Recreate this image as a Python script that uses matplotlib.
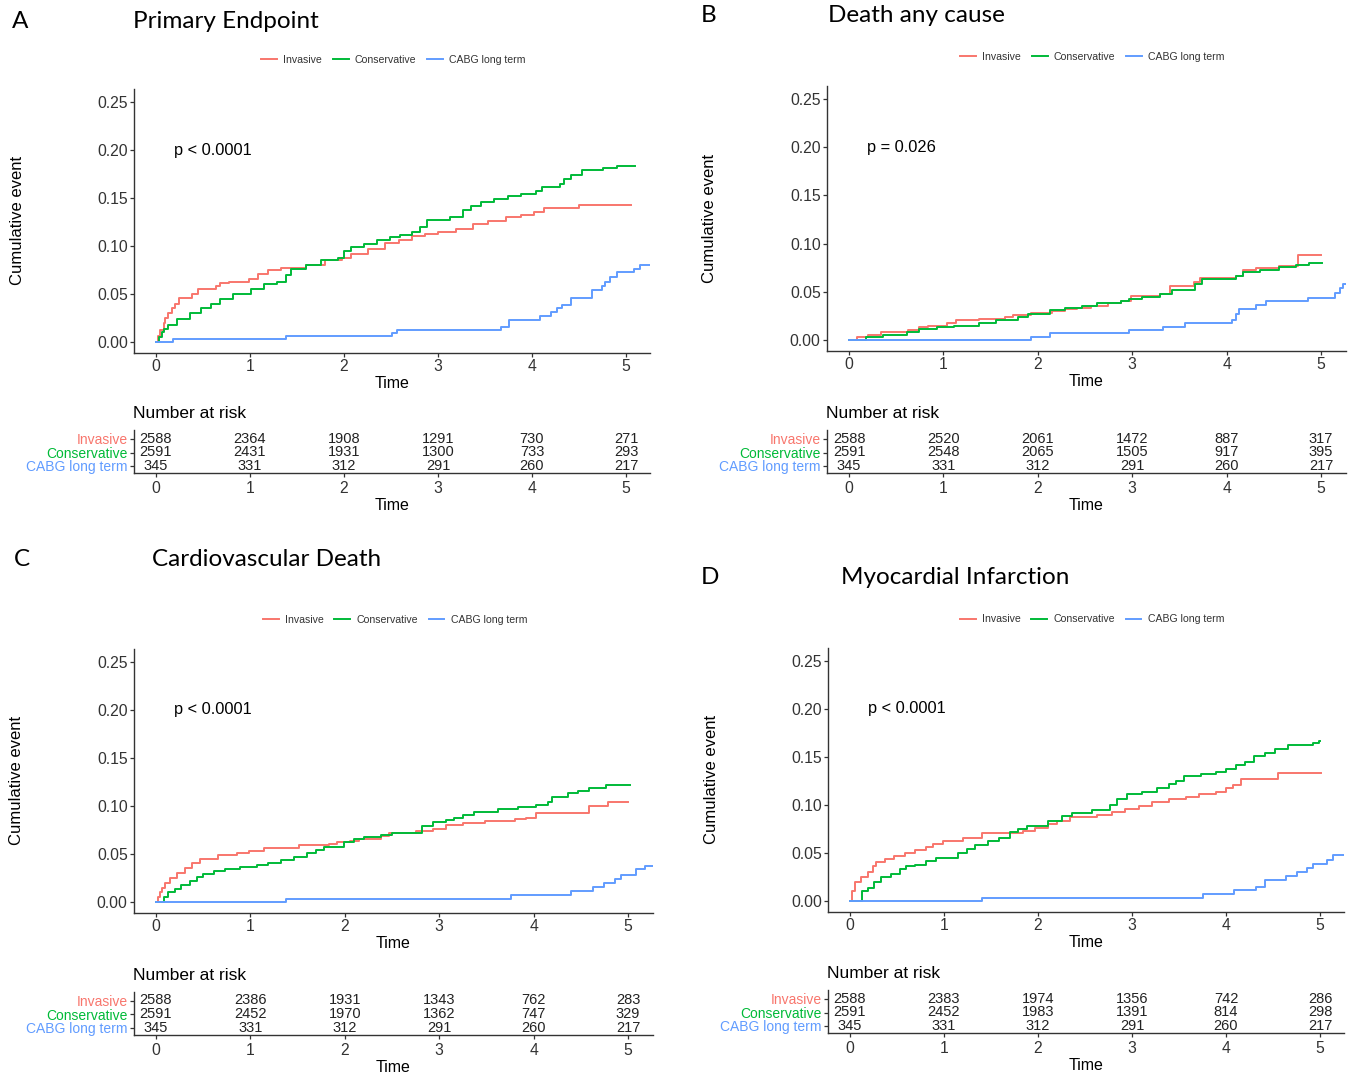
import matplotlib
matplotlib.use("Agg")
import matplotlib.pyplot as plt
from matplotlib.lines import Line2D

W, H = 1352, 1077
plt.rcParams['font.family'] = ['Liberation Sans', 'DejaVu Sans']

groups = ["Invasive", "Conservative", "CABG long term"]
colors = ["#F8766D", "#00BA38", "#619CFF"]
years = [0, 1, 2, 3, 4, 5]
yticks = [0.00, 0.05, 0.10, 0.15, 0.20, 0.25]

# step knots (time, cumulative event)
a_invasive = [(0, 0), (0.02, 0.006), (0.04, 0.012), (0.08, 0.02), (0.1, 0.025), (0.13, 0.03),
              (0.17, 0.035), (0.2, 0.04), (0.24, 0.046), (0.38, 0.05), (0.45, 0.055), (0.64, 0.058),
              (0.68, 0.061), (0.78, 0.063), (0.99, 0.066), (1.08, 0.071), (1.19, 0.075), (1.33, 0.077),
              (1.6, 0.08), (1.8, 0.085), (1.98, 0.088), (2.07, 0.092), (2.26, 0.097), (2.44, 0.103),
              (2.58, 0.106), (2.72, 0.11), (2.86, 0.112), (3.0, 0.115), (3.19, 0.118), (3.37, 0.123),
              (3.53, 0.126), (3.72, 0.13), (3.88, 0.132), (4.02, 0.135), (4.13, 0.14), (4.5, 0.143),
              (5.05, 0.143)]
a_conservative = [(0, 0), (0.03, 0.005), (0.06, 0.01), (0.09, 0.014), (0.13, 0.018), (0.22, 0.024),
                  (0.36, 0.03), (0.48, 0.035), (0.59, 0.04), (0.68, 0.045), (0.82, 0.05), (1.01, 0.055),
                  (1.15, 0.06), (1.29, 0.063), (1.38, 0.07), (1.44, 0.076), (1.6, 0.08), (1.75, 0.085),
                  (1.94, 0.088), (2.0, 0.095), (2.07, 0.099), (2.21, 0.102), (2.35, 0.106), (2.49, 0.109),
                  (2.6, 0.111), (2.72, 0.115), (2.81, 0.12), (2.88, 0.127), (3.13, 0.13), (3.27, 0.138),
                  (3.35, 0.142), (3.46, 0.146), (3.6, 0.149), (3.74, 0.152), (3.88, 0.154), (4.04, 0.157),
                  (4.11, 0.161), (4.3, 0.165), (4.34, 0.17), (4.41, 0.174), (4.53, 0.179), (4.76, 0.181),
                  (4.9, 0.183), (5.1, 0.183)]
a_cabg = [(0, 0), (0.18, 0.003), (1.38, 0.006), (2.51, 0.009), (2.56, 0.012), (3.67, 0.016),
          (3.76, 0.023), (4.09, 0.027), (4.2, 0.031), (4.27, 0.035), (4.32, 0.039), (4.41, 0.046),
          (4.64, 0.054), (4.74, 0.058), (4.78, 0.063), (4.83, 0.068), (4.9, 0.073), (5.08, 0.076),
          (5.15, 0.08), (5.26, 0.08)]

b_invasive = [(0, 0), (0.08, 0.003), (0.2, 0.005), (0.34, 0.008), (0.63, 0.01), (0.74, 0.013),
              (0.84, 0.015), (1.04, 0.018), (1.13, 0.021), (1.38, 0.022), (1.65, 0.024), (1.74, 0.026),
              (1.93, 0.028), (2.15, 0.03), (2.29, 0.032), (2.42, 0.033), (2.56, 0.035), (2.74, 0.038),
              (2.88, 0.04), (2.99, 0.046), (3.29, 0.048), (3.4, 0.056), (3.65, 0.06), (3.72, 0.064),
              (4.1, 0.066), (4.17, 0.073), (4.31, 0.075), (4.56, 0.077), (4.76, 0.088), (5.0, 0.088)]
b_conservative = [(0, 0), (0.18, 0.003), (0.36, 0.005), (0.61, 0.008), (0.74, 0.011), (0.93, 0.013),
                  (1.11, 0.015), (1.38, 0.018), (1.56, 0.021), (1.79, 0.024), (1.9, 0.027), (2.13, 0.031),
                  (2.29, 0.033), (2.47, 0.035), (2.63, 0.038), (2.88, 0.04), (2.97, 0.043), (3.1, 0.045),
                  (3.29, 0.048), (3.42, 0.052), (3.67, 0.058), (3.74, 0.063), (4.1, 0.066), (4.17, 0.071),
                  (4.35, 0.073), (4.56, 0.076), (4.74, 0.078), (4.87, 0.08), (5.01, 0.08)]
b_cabg = [(0, 0), (1.93, 0.003), (2.13, 0.007), (2.97, 0.01), (3.33, 0.014), (3.56, 0.018),
          (4.06, 0.021), (4.1, 0.027), (4.13, 0.032), (4.31, 0.036), (4.42, 0.04), (4.86, 0.044),
          (5.15, 0.049), (5.2, 0.054), (5.23, 0.058), (5.26, 0.058)]

c_invasive = [(0, 0), (0.02, 0.005), (0.04, 0.01), (0.06, 0.015), (0.1, 0.02), (0.15, 0.025),
              (0.22, 0.03), (0.31, 0.035), (0.38, 0.041), (0.47, 0.045), (0.66, 0.049), (0.86, 0.051),
              (0.98, 0.053), (1.14, 0.056), (1.51, 0.059), (1.83, 0.06), (1.92, 0.063), (2.06, 0.064),
              (2.15, 0.066), (2.38, 0.069), (2.47, 0.072), (2.75, 0.074), (2.93, 0.076), (3.07, 0.08),
              (3.25, 0.082), (3.48, 0.084), (3.8, 0.086), (3.92, 0.088), (4.03, 0.093), (4.59, 0.1),
              (4.79, 0.104), (5.0, 0.104)]
c_conservative = [(0, 0), (0.08, 0.005), (0.13, 0.01), (0.2, 0.014), (0.27, 0.018), (0.36, 0.022),
                  (0.43, 0.026), (0.5, 0.029), (0.61, 0.032), (0.73, 0.034), (0.89, 0.036), (1.07, 0.039),
                  (1.19, 0.041), (1.32, 0.044), (1.46, 0.047), (1.6, 0.051), (1.69, 0.054), (1.78, 0.057),
                  (1.99, 0.063), (2.1, 0.066), (2.2, 0.068), (2.38, 0.07), (2.5, 0.072), (2.82, 0.079),
                  (2.93, 0.083), (3.07, 0.085), (3.16, 0.088), (3.25, 0.091), (3.37, 0.094), (3.62, 0.097),
                  (3.83, 0.099), (4.03, 0.101), (4.15, 0.104), (4.2, 0.109), (4.36, 0.114), (4.47, 0.116),
                  (4.59, 0.119), (4.77, 0.122), (5.02, 0.122)]
c_cabg = [(0, 0), (1.38, 0.003), (3.76, 0.007), (4.4, 0.011), (4.63, 0.016), (4.75, 0.02),
          (4.86, 0.024), (4.93, 0.028), (5.09, 0.034), (5.18, 0.037), (5.26, 0.037)]

d_invasive = [(0, 0), (0.02, 0.01), (0.05, 0.02), (0.12, 0.025), (0.19, 0.03), (0.24, 0.036),
              (0.28, 0.041), (0.37, 0.044), (0.47, 0.047), (0.58, 0.05), (0.69, 0.053), (0.81, 0.056),
              (0.88, 0.059), (0.99, 0.063), (1.2, 0.066), (1.4, 0.071), (1.84, 0.073), (1.97, 0.076),
              (2.11, 0.08), (2.2, 0.083), (2.34, 0.088), (2.63, 0.09), (2.79, 0.093), (2.93, 0.096),
              (3.07, 0.099), (3.21, 0.103), (3.39, 0.106), (3.57, 0.108), (3.71, 0.111), (3.89, 0.114),
              (4.0, 0.118), (4.07, 0.121), (4.16, 0.127), (4.55, 0.133), (5.01, 0.133)]
d_conservative = [(0, 0), (0.13, 0.01), (0.19, 0.014), (0.26, 0.02), (0.33, 0.025), (0.44, 0.028),
                  (0.53, 0.033), (0.6, 0.036), (0.69, 0.038), (0.81, 0.042), (0.92, 0.045), (1.15, 0.05),
                  (1.24, 0.054), (1.33, 0.058), (1.47, 0.063), (1.58, 0.066), (1.7, 0.072), (1.79, 0.075),
                  (1.88, 0.078), (2.11, 0.083), (2.25, 0.089), (2.36, 0.092), (2.57, 0.095), (2.77, 0.1),
                  (2.84, 0.106), (2.95, 0.111), (3.11, 0.114), (3.27, 0.118), (3.39, 0.122), (3.47, 0.125),
                  (3.55, 0.13), (3.73, 0.132), (3.89, 0.134), (4.0, 0.137), (4.11, 0.142), (4.2, 0.145),
                  (4.3, 0.151), (4.41, 0.154), (4.52, 0.158), (4.66, 0.163), (4.93, 0.165), (4.99, 0.167),
                  (5.0, 0.167)]
d_cabg = [(0, 0), (1.4, 0.003), (3.75, 0.007), (4.09, 0.011), (4.32, 0.015), (4.41, 0.022),
          (4.64, 0.026), (4.75, 0.03), (4.86, 0.034), (4.93, 0.039), (5.07, 0.043), (5.14, 0.048),
          (5.26, 0.048)]

# number at risk at years 0..5
cabg_risk = [345, 331, 312, 291, 260, 217]
a_risk = [[2588, 2364, 1908, 1291, 730, 271], [2591, 2431, 1931, 1300, 733, 293], cabg_risk]
b_risk = [[2588, 2520, 2061, 1472, 887, 317], [2591, 2548, 2065, 1505, 917, 395], cabg_risk]
c_risk = [[2588, 2386, 1931, 1343, 762, 283], [2591, 2452, 1970, 1362, 747, 329], cabg_risk]
d_risk = [[2588, 2383, 1974, 1356, 742, 286], [2591, 2452, 1983, 1391, 814, 298], cabg_risk]

XLIM = (-0.234, 5.26)
YLIM = (-0.0115, 0.264)
TITLE_FONT = ['Lato', 'DejaVu Sans']

fig = plt.figure(figsize=(W / 100, H / 100), dpi=100)


def fx(px):
    return px / W


def fy(py):
    return 1 - py / H


def style(ax):
    for s in ['top', 'right']:
        ax.spines[s].set_visible(False)
    for s in ['left', 'bottom']:
        ax.spines[s].set_linewidth(1.0)
        ax.spines[s].set_color('#333333')
    ax.tick_params(direction='out', length=3, width=0.9, pad=1.5, labelsize=11.3,
                   labelcolor='#333333', color='#333333')


def draw(letter, title, curves, risk, pval, lay):
    x0, x5, y0, y25 = lay['ticks']
    ux = (x5 - x0) / 5
    uy = (y0 - y25) / 0.25
    left = x0 + XLIM[0] * ux
    right = x0 + XLIM[1] * ux
    top = y0 - YLIM[1] * uy
    bottom = y0 - YLIM[0] * uy
    cx = (left + right) / 2

    ax = fig.add_axes([fx(left), fy(bottom), (right - left) / W, (bottom - top) / H])
    for pts, c in zip(curves, colors):
        ax.step([p[0] for p in pts], [p[1] for p in pts], where='post', color=c, lw=1.4)
    ax.set_xlim(XLIM)
    ax.set_ylim(YLIM)
    ax.set_xticks(years)
    ax.set_yticks(yticks)
    ax.set_yticklabels([f"{v:.2f}" for v in yticks])
    style(ax)
    ax.text(0.19, 0.2, pval, fontsize=11.8, ha='left', va='center', color='black')
    fig.text(fx(cx), fy(bottom + 30), "Time", fontsize=11.5, ha='center', va='center')
    fig.text(fx(lay['ylab_x']), fy((top + bottom) / 2), "Cumulative event", rotation=90,
             fontsize=12, ha='center', va='center')

    # title and panel letter
    fig.text(fx(lay['letter_x']), fy(lay['title_y']), letter, fontsize=17.5,
             family=TITLE_FONT, ha='left', va='center')
    fig.text(fx(lay['title_x']), fy(lay['title_y']), title, fontsize=17.5,
             family=TITLE_FONT, ha='left', va='center')

    handles = [Line2D([], [], color=c, lw=1.4) for c in colors]
    fig.legend(handles, groups, loc='center', ncol=3, frameon=False,
               bbox_to_anchor=(fx(lay['legend'][0]), fy(lay['legend'][1])),
               fontsize=7.6, handlelength=1.5, handletextpad=0.6, columnspacing=1.0,
               borderpad=0, labelcolor='#333333')

    # risk table
    r1 = lay['row1']
    spine = r1 + 2 * 13.5 + 7
    ttop = r1 - 9
    tax = fig.add_axes([fx(left), fy(spine), (right - left) / W, (spine - ttop) / H])
    tax.set_xlim(XLIM)
    tax.set_ylim(2 + 7 / 13.5, -9 / 13.5)
    for i, row in enumerate(risk):
        for x, n in zip(years, row):
            tax.text(x, i, str(n), ha='center', va='center', fontsize=10.5, color='#222222')
    tax.set_xticks(years)
    tax.set_yticks([0, 1, 2])
    tax.set_yticklabels(groups)
    style(tax)
    tax.tick_params(axis='y', labelsize=10)
    tax.tick_params(axis='x', pad=3)
    for lbl, c in zip(tax.get_yticklabels(), colors):
        lbl.set_color(c)
    fig.text(fx(left - 1), fy(r1 - 25), "Number at risk", fontsize=12.5, ha='left', va='center')
    fig.text(fx(cx), fy(spine + 33), "Time", fontsize=11.5, ha='center', va='center')


layouts = {
    'A': dict(ticks=(156, 626, 342, 102), ylab_x=18, letter_x=12, title_x=133, title_y=21,
              legend=(393.5, 60), row1=439),
    'B': dict(ticks=(849, 1321, 340, 99), ylab_x=710, letter_x=701, title_x=828, title_y=16,
              legend=(1092.5, 57), row1=439),
    'C': dict(ticks=(156, 628, 902, 662), ylab_x=17, letter_x=14, title_x=152, title_y=559,
              legend=(395, 620), row1=1000.5),
    'D': dict(ticks=(850, 1320, 901, 661), ylab_x=711, letter_x=701, title_x=841, title_y=577,
              legend=(1092, 619.5), row1=999),
}

draw('A', 'Primary Endpoint', [a_invasive, a_conservative, a_cabg], a_risk, 'p < 0.0001', layouts['A'])
draw('B', 'Death any cause', [b_invasive, b_conservative, b_cabg], b_risk, 'p = 0.026', layouts['B'])
draw('C', 'Cardiovascular Death', [c_invasive, c_conservative, c_cabg], c_risk, 'p < 0.0001', layouts['C'])
draw('D', 'Myocardial Infarction', [d_invasive, d_conservative, d_cabg], d_risk, 'p < 0.0001', layouts['D'])

fig.savefig("out.png", dpi=100)
